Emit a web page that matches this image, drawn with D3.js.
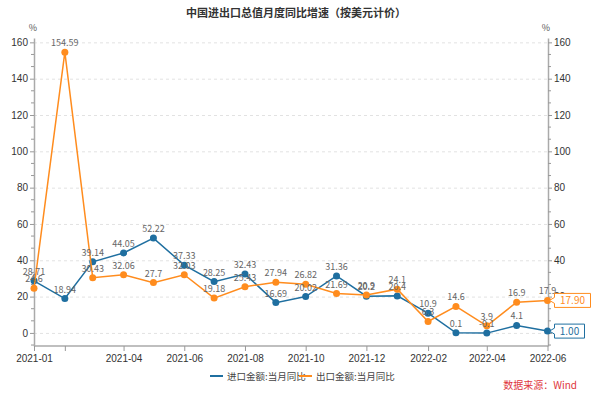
<!DOCTYPE html>
<html><head><meta charset="utf-8">
<script src="https://cdn.jsdelivr.net/npm/d3@7"></script>
<style>body{margin:0;background:#fff;}svg{display:block;font-family:"Noto Sans CJK SC","Noto Sans",sans-serif;}</style>
</head><body><svg id="c" width="593" height="397"></svg>
<script>
const months = ["2021-01","2021-02","2021-03","2021-04","2021-05","2021-06","2021-07","2021-08","2021-09","2021-10","2021-11","2021-12","2022-01","2022-02","2022-03","2022-04","2022-05","2022-06"];
const importYoY = [28.71,18.94,39.14,44.05,52.22,37.33,28.25,32.43,16.69,20.02,31.36,20.2,20.4,10.9,0.1,-0.1,4.1,1.0];
const exportYoY = [24.6,154.59,30.43,32.06,27.7,32.03,19.18,25.43,27.94,26.82,21.69,20.9,24.1,6.3,14.6,3.9,16.9,17.9];
const importLabels = ["28.71","18.94","39.14","44.05","52.22","37.33","28.25","32.43","16.69","20.02","31.36","20.2","20.4","10.9","0.1","-0.1","4.1",""];
const exportLabels = ["24.6","154.59","30.43","32.06","27.7","32.03","19.18","25.43","27.94","26.82","21.69","20.9","24.1","6.3","14.6","3.9","16.9","17.9"];
const xTickMonths = ["2021-01","2021-02","2021-04","2021-06","2021-08","2021-10","2021-12","2022-02","2022-04","2022-06"];
const xTickLabels = ["2021-01","","2021-04","2021-06","2021-08","2021-10","2021-12","2022-02","2022-04","2022-06"];
const yTicks = [0,20,40,60,80,100,120,140,160];
const seriesNames = ["进口金额:当月同比","出口金额:当月同比"];
const lastLabels = ["1.00","17.90"];
const title = "中国进出口总值月度同比增速（按美元计价）";
const source = "数据来源：Wind";

const colors = ["#1f6fa0","#ff8c1e"];
const parse = d3.utcParse("%Y-%m");
const svg = d3.select("#c");
const x = d3.scaleUtc().domain([parse("2021-01"), parse("2022-06")]).range([34, 547.5]);
const y = d3.scaleLinear().domain([-7.2, 162.4]).range([346, 38]);
const X0 = 34, X1 = 548;

svg.append("g").selectAll("line").data(yTicks).join("line")
  .attr("x1", X0).attr("x2", X1).attr("y1", d=>y(d)+0.5).attr("y2", d=>y(d)+0.5)
  .attr("stroke","#e2e2e2").attr("stroke-dasharray","3,3");

svg.append("text").attr("x",296).attr("y",17).attr("text-anchor","middle")
  .attr("font-size",11).attr("font-weight","bold").attr("fill","#333").text(title);

const minor = d3.range(-20/3*1, 162, 20/3).filter(v=>v>-7.2 && Math.abs(v/20-Math.round(v/20))>0.01);

function styleAxis(g){
  g.select(".domain").attr("stroke","#aaa").attr("stroke-width",1.5);
  g.selectAll(".tick line").attr("stroke","#999");
  g.selectAll(".tick text").attr("fill","#333").attr("font-size",10);
}
const la = svg.append("g").attr("transform",`translate(${X0},0)`)
  .call(d3.axisLeft(y).tickValues(yTicks).tickSize(4).tickSizeOuter(0).tickPadding(2));
styleAxis(la);
la.selectAll(".minor").data(minor).join("line").attr("class","minor")
  .attr("x1",0).attr("x2",-3).attr("y1",d=>y(d)).attr("y2",d=>y(d)).attr("stroke","#999");
const ra = svg.append("g").attr("transform",`translate(${X1},0)`)
  .call(d3.axisRight(y).tickValues(yTicks).tickSize(4).tickSizeOuter(0).tickPadding(2));
styleAxis(ra);
ra.selectAll(".minor").data(minor).join("line").attr("class","minor")
  .attr("x1",0).attr("x2",3).attr("y1",d=>y(d)).attr("y2",d=>y(d)).attr("stroke","#999");
svg.append("text").attr("x",33).attr("y",31).attr("text-anchor","middle").attr("font-size",9).attr("fill","#555").text("%");
svg.append("text").attr("x",546).attr("y",31).attr("text-anchor","middle").attr("font-size",9).attr("fill","#555").text("%");

const xa = svg.append("g").attr("transform",`translate(0,${y(-7.2)})`)
  .call(d3.axisBottom(x).tickValues(xTickMonths.map(parse)).tickFormat((d,i)=>xTickLabels[i]).tickSize(5).tickSizeOuter(0).tickPadding(4));
xa.select(".domain").attr("stroke","#aaa").attr("stroke-width",1.5).attr("d",`M${X0},0H${X1}`);
xa.selectAll(".tick line").attr("stroke","#999");
xa.selectAll(".tick text").attr("fill","#333").attr("font-size",10);

const series = [importYoY, exportYoY];
const labels = [importLabels, exportLabels];
const line = d3.line().x(d=>x(d.t)).y(d=>y(d.v));
series.forEach((vals,si)=>{
  const pts = vals.map((v,i)=>({t:parse(months[i]), v, l:labels[si][i]}));
  const g = svg.append("g");
  g.append("path").datum(pts).attr("d",line).attr("fill","none").attr("stroke",colors[si]).attr("stroke-width",1.5);
  g.selectAll("circle").data(pts).join("circle").attr("cx",d=>x(d.t)).attr("cy",d=>y(d.v)).attr("r",3.5).attr("fill",colors[si]);
});
series.forEach((vals,si)=>{
  const pts = vals.map((v,i)=>({t:parse(months[i]), v, l:labels[si][i]}));
  svg.append("g").selectAll("text").data(pts).join("text").attr("x",d=>x(d.t)).attr("y",d=>y(d.v)-6)
    .attr("text-anchor","middle").attr("font-size",9).attr("fill","#666").text(d=>d.l);
});

series.forEach((vals,si)=>{
  const v = vals[vals.length-1];
  const py = y(v), px = x(parse(months[months.length-1]));
  const txt = lastLabels[si];
  const w = txt.length*6+6, h = 14, bx = px+7;
  const p = `M${px+2},${py} L${bx},${py-3} L${bx},${py-h/2} L${bx+w},${py-h/2} L${bx+w},${py+h/2} L${bx},${py+h/2} L${bx},${py+3} Z`;
  svg.append("path").attr("d",p).attr("fill","#fff").attr("stroke",colors[si]).attr("stroke-width",1);
  svg.append("text").attr("x",bx+w/2).attr("y",py+3.5).attr("text-anchor","middle").attr("font-size",10).attr("fill",colors[si]).text(txt);
});

const lg = svg.append("g").attr("transform","translate(0,376)");
const lx = [210, 299];
seriesNames.forEach((n,i)=>{
  lg.append("line").attr("x1",lx[i]).attr("x2",lx[i]+13).attr("y1",0).attr("y2",0).attr("stroke",colors[i]).attr("stroke-width",2);
  lg.append("text").attr("x",lx[i]+17).attr("y",3.5).attr("font-size",9.5).attr("fill","#444").text(n);
});
svg.append("text").attr("x",577).attr("y",389).attr("text-anchor","end").attr("font-size",10).attr("fill","#e0363c").text(source);
</script></body></html>
